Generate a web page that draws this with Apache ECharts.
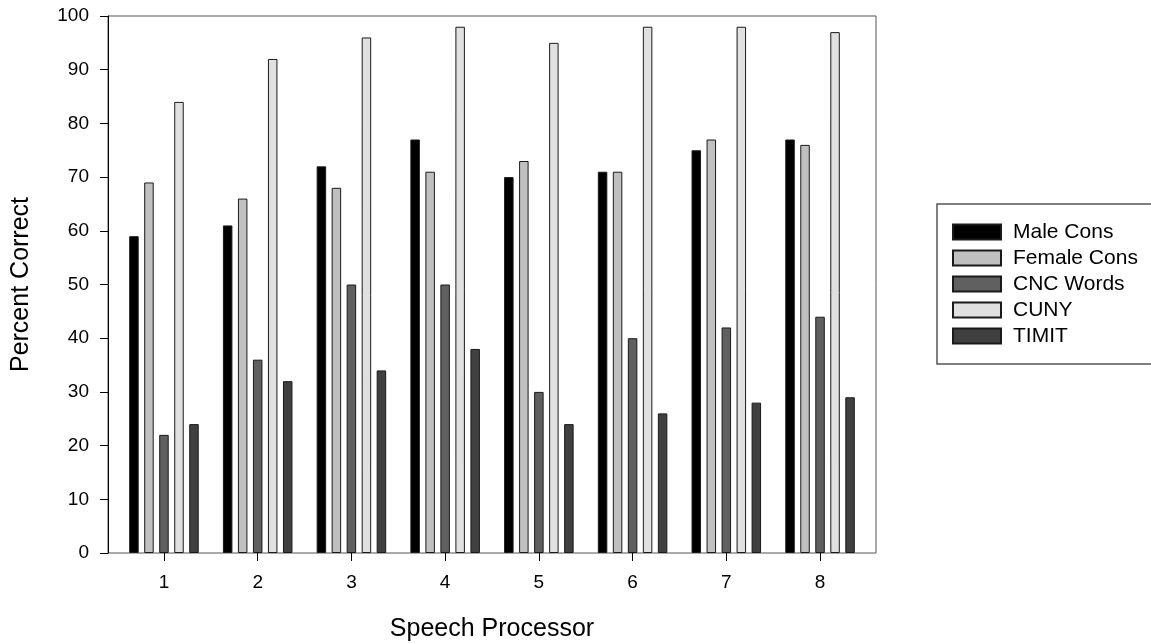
<!DOCTYPE html>
<html>
<head>
<meta charset="utf-8">
<script src="https://cdn.jsdelivr.net/npm/echarts@6/dist/echarts.min.js"></script>
<style>
html,body{margin:0;padding:0;background:#fff;}
#c{width:1151px;height:643px;}
</style>
</head>
<body>
<div id="c"></div>
<script>
const categories = ['1','2','3','4','5','6','7','8'];
const maleCons   = [59, 61, 72, 77, 70, 71, 75, 77];
const femaleCons = [69, 66, 68, 71, 73, 71, 77, 76];
const cncWords   = [22, 36, 50, 50, 30, 40, 42, 44];
const cuny       = [84, 92, 96, 98, 95, 98, 98, 97];
const timit      = [24, 32, 34, 38, 24, 26, 28, 29];
const yTicks = [0,10,20,30,40,50,60,70,80,90,100];

const FONT = '"Liberation Sans", Arial, sans-serif';
const seriesDefs = [
  {name:'Male Cons', data: maleCons, color:'#000000'},
  {name:'Female Cons', data: femaleCons, color:'#c0c0c0'},
  {name:'CNC Words', data: cncWords, color:'#606060'},
  {name:'CUNY', data: cuny, color:'#e0e0e0'},
  {name:'TIMIT', data: timit, color:'#404040'}
];

const chart = echarts.init(document.getElementById('c'), null, {renderer:'canvas'});
chart.setOption({
  backgroundColor:'#ffffff',
  animation:false,
  textStyle:{fontFamily:FONT},
  grid:[
    {left:108, right:275, top:16, bottom:90, show:true, borderColor:'#555', borderWidth:1,
     backgroundColor:'transparent', containLabel:false, outerBoundsMode:'none'},
    {left:117.1, right:284.1, top:16, bottom:90, containLabel:false, outerBoundsMode:'none'}
  ],
  legend:{
    orient:'vertical',
    left:937, top:204,
    padding:[17, 60, 17, 15],
    itemGap:4,
    icon:'rect',
    itemWidth:48, itemHeight:15,
    borderColor:'#555', borderWidth:1.5, borderRadius:0,
    backgroundColor:'#fff',
    textStyle:{fontSize:21, color:'#000', fontFamily:FONT, lineHeight:22, padding:[0,0,0,7]},
    data: seriesDefs.map(s=>s.name)
  },
  xAxis:[
    {gridIndex:0, type:'value', min:0, max:1, show:false},
    {gridIndex:1, type:'category', data:categories, boundaryGap:true,
     axisLine:{show:false},
     axisTick:{show:true, alignWithLabel:true, inside:false, length:8, lineStyle:{color:'#000'}},
     axisLabel:{fontSize:19, color:'#000', margin:20, fontFamily:FONT},
     name:'Speech Processor', nameLocation:'middle', nameGap:64,
     nameTextStyle:{fontSize:25, color:'#000', fontFamily:FONT}
    }
  ],
  yAxis:[
    {gridIndex:0, type:'value', min:0, max:100, interval:10,
     axisLine:{show:true, lineStyle:{color:'#000', width:1}},
     axisTick:{show:true, length:8, lineStyle:{color:'#000'}},
     axisLabel:{fontSize:19, color:'#000', margin:19, fontFamily:FONT,
       customValues: yTicks},
     splitLine:{show:false},
     name:'Percent Correct', nameLocation:'middle', nameGap:74, nameRotate:90,
     nameTextStyle:{fontSize:25, color:'#000', fontFamily:FONT}
    },
    {gridIndex:1, type:'value', min:0, max:100, show:false}
  ],
  series: seriesDefs.map(s=>({
    name:s.name, type:'bar', xAxisIndex:1, yAxisIndex:1,
    data:s.data, barWidth:9.5, barGap:'58%',
    itemStyle:{color:s.color, borderColor:'#1a1a1a', borderWidth:1},
    emphasis:{disabled:true}
  }))
});
</script>
</body>
</html>
